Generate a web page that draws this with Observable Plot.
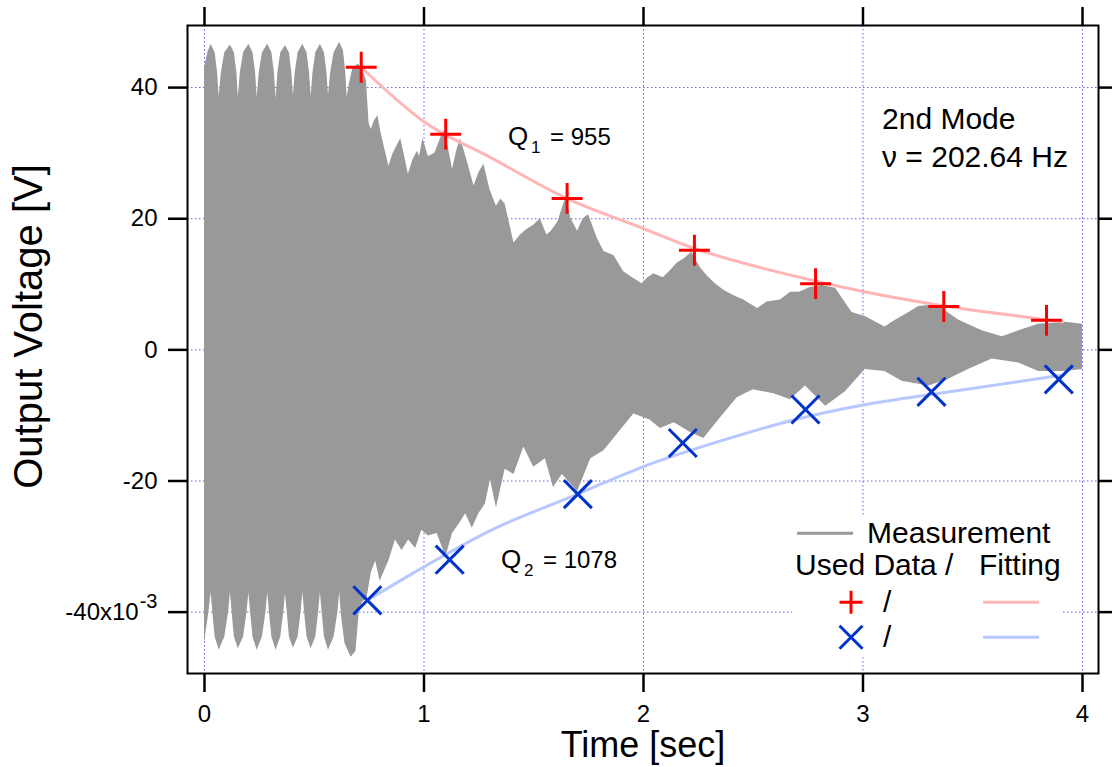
<!DOCTYPE html>
<html><head><meta charset="utf-8">
<script src="https://cdn.jsdelivr.net/npm/d3@7"></script>
<script src="https://cdn.jsdelivr.net/npm/@observablehq/plot@0.6"></script>
<style>body{margin:0;background:#fff;} svg{display:block}</style>
</head><body><div id="chart"></div>
<script>
const upperT = [0.000,0.015,0.030,0.0485,0.0596,0.067,
  0.077,0.0925,0.118,0.136,0.1476,0.154,
  0.1636,0.178,0.202,0.221,0.2328,0.240,
  0.2496,0.264,0.288,0.307,0.3184,0.326,
  0.3346,0.3475,0.369,0.387,0.3978,0.405,
  0.4136,0.4265,0.448,0.467,0.4784,0.486,
  0.4944,0.507,0.528,0.5465,0.5576,0.565,
  0.575,0.5905,0.616,0.633,0.643,0.650,
  0.660,0.675,0.700,0.720,0.738,0.750,0.760,0.775,0.790,0.805,
  0.840,0.860,0.894,0.912,0.929,0.950,0.970,0.980,0.995,1.020,
  1.050,1.090,1.110,1.130,1.150,1.167,1.195,1.228,1.250,1.273,
  1.300,1.330,1.350,1.370,1.410,1.440,1.470,1.500,1.530,1.560,
  1.580,1.610,1.645,1.670,1.700,1.725,1.750,1.790,1.820,1.865,
  1.910,1.950,1.994,2.020,2.047,2.090,2.120,2.153,2.190,2.220,
  2.260,2.290,2.330,2.366,2.410,2.457,2.520,2.563,2.624,2.670,
  2.710,2.760,2.814,2.875,2.950,3.010,3.100,3.148,3.200,3.254,
  3.310,3.360,3.437,3.543,3.634,3.710,3.800,3.923,4.000];
const upperV = [43.0,45.3,46.6,45.3,42.3,38.6,
  42.3,45.3,46.5,45.3,42.3,38.5,
  42.3,45.3,46.6,45.3,42.3,38.5,
  42.3,45.3,46.6,45.3,42.3,38.3,
  42.3,45.3,46.4,45.3,42.3,38.8,
  42.3,45.3,46.6,45.3,42.3,38.6,
  42.3,45.3,46.6,45.3,42.3,38.8,
  42.3,45.3,46.9,45.6,42.5,38.5,
  40.5,42.8,43.6,42.8,41.0,34.5,33.6,35.0,35.7,33.0,
  28.0,30.0,32.2,29.5,26.8,29.0,30.3,29.5,32.2,29.5,
  30.0,33.5,31.0,27.5,30.5,32.2,29.0,25.0,27.0,28.3,
  24.5,21.9,23.0,22.2,16.3,17.5,18.4,19.0,20.0,17.5,
  18.1,19.5,23.1,20.0,18.1,20.0,20.6,17.0,15.0,14.4,
  11.9,11.0,10.1,11.0,11.6,11.0,12.0,13.2,14.0,14.9,
  12.5,11.3,10.0,9.1,8.3,7.6,6.3,7.3,7.6,8.8,
  8.8,9.5,9.8,9.4,5.7,5.1,3.5,4.5,5.5,6.6,
  6.8,6.3,4.5,2.9,2.0,2.9,3.9,4.2,3.9];
const lowerT = [0.000,0.020,0.030,0.038,0.0485,0.067,
  0.0925,0.110,0.118,0.126,0.136,0.154,
  0.178,0.194,0.202,0.210,0.221,0.240,
  0.264,0.280,0.288,0.296,0.307,0.326,
  0.3475,0.361,0.369,0.377,0.387,0.405,
  0.4265,0.440,0.448,0.456,0.467,0.486,
  0.507,0.520,0.528,0.536,0.5465,0.565,
  0.5905,0.608,0.616,0.624,0.640,0.668,
  0.690,0.705,0.720,0.740,0.760,0.780,0.800,
  0.840,0.870,0.900,0.930,0.962,0.990,1.020,1.060,1.100,1.130,1.160,
  1.190,1.220,1.250,1.280,1.303,1.330,1.370,1.410,1.455,1.500,
  1.553,1.590,1.630,1.700,1.760,1.820,1.880,1.956,2.030,2.077,
  2.140,2.214,2.275,2.350,2.427,2.500,2.594,2.670,2.738,2.830,
  2.920,3.010,3.100,3.178,3.300,3.390,3.480,3.589,3.710,3.800,
  3.923,4.000];
const lowerV = [-44.8,-40.0,-37.0,-40.0,-43.8,-45.8,
  -43.8,-40.0,-37.0,-40.0,-43.8,-45.6,
  -43.8,-40.0,-37.0,-40.0,-43.8,-45.8,
  -43.8,-40.0,-37.0,-40.0,-43.8,-45.8,
  -43.8,-40.0,-37.2,-40.0,-43.8,-45.5,
  -43.8,-40.0,-37.0,-40.0,-43.8,-45.6,
  -43.8,-40.0,-37.0,-40.0,-43.8,-45.8,
  -43.8,-40.0,-37.0,-40.5,-44.8,-46.9,
  -46.0,-40.0,-38.5,-38.0,-34.0,-32.2,-35.3,
  -32.2,-29.0,-30.6,-29.0,-30.3,-27.5,-28.4,-28.0,-31.6,-28.0,-26.6,
  -25.0,-27.2,-25.0,-23.5,-19.8,-24.1,-18.2,-19.0,-14.8,-17.9,
  -16.6,-21.0,-19.0,-21.6,-16.6,-15.4,-12.9,-9.8,-10.7,-12.0,
  -11.1,-12.6,-13.5,-10.4,-7.3,-6.1,-6.7,-7.6,-5.5,-8.6,
  -6.4,-3.0,-3.3,-4.8,-5.5,-4.5,-3.0,-1.4,-2.0,-3.3,
  -3.3,-3.0];

// Used data points
const usedUpperT = [0.714,1.099,1.652,2.232,2.784,3.368,3.836];
const usedUpperV = [43.1,32.9,23.1,15.2,10.1,6.6,4.5];
const usedLowerT = [0.742,1.117,1.701,2.179,2.738,3.312,3.892];
const usedLowerV = [-38.2,-32.0,-22.0,-14.2,-9.1,-6.4,-4.5];

// Fitted envelopes
const fitUpperT = [0.714,1.0,1.3,1.65,2.0,2.23,2.67,3.0,3.37,3.84,3.91];
const fitUpperV = [43.1,34.8,29.4,23.1,18.5,15.5,11.4,8.9,6.7,4.6,4.3];
const fitLowerT = [0.742,1.0,1.3,1.7,2.0,2.37,2.67,3.0,3.31,3.9];
const fitLowerV = [-38.2,-33.1,-27.6,-22.0,-17.8,-13.7,-10.8,-8.4,-6.8,-3.9];

const xTicks = [0,1,2,3,4];
const yTicks = [-40,-20,0,20,40];
const yTickLabels = ["-40x10","-20","0","20","40"];

const font = "'Liberation Sans', Arial, Helvetica, sans-serif";
const zip = (T, V) => T.map((t, i) => ({t, v: V[i]}));
const up = zip(upperT, upperV), lo = zip(lowerT, lowerV);
const uu = zip(usedUpperT, usedUpperV), ul = zip(usedLowerT, usedLowerV);
const fu = zip(fitUpperT, fitUpperV), fl = zip(fitLowerT, fitLowerV);

const gridStyle = {stroke: "#5a5aff", strokeOpacity: 1, strokeWidth: 1, strokeDasharray: "1.5,2.5"};
const plot = Plot.plot({
  width: 1112, height: 767,
  marginLeft: 187, marginRight: 14, marginTop: 25, marginBottom: 94,
  x: {domain: [-0.0774, 4.0729]},
  y: {domain: [-49.36, 49.47]},
  style: {fontFamily: font, background: "white", color: "black", overflow: "visible"},
  marks: [
    Plot.gridX(xTicks, gridStyle),
    Plot.gridY(yTicks, gridStyle),
    Plot.areaY(up, {x: "t", y1: -1, y2: "v", fill: "#999999"}),
    Plot.areaY(lo, {x: "t", y1: "v", y2: 1, fill: "#999999"}),
    Plot.line(fu, {x: "t", y: "v", stroke: "#ffb5b5", strokeWidth: 3, curve: "monotone-x"}),
    Plot.line(fl, {x: "t", y: "v", stroke: "#b8c8ff", strokeWidth: 3, curve: "monotone-x"}),
    Plot.dot(uu, {x: "t", y: "v", symbol: "plus", r: 10, stroke: "#ff0000", strokeWidth: 3}),
    Plot.dot(ul, {x: "t", y: "v", symbol: "times", r: 12.8, stroke: "#0033cc", strokeWidth: 3}),
    Plot.frame({stroke: "black", strokeWidth: 2}),
    Plot.axisX(xTicks, {anchor: "bottom", tickSize: 19, tickPadding: 12, fontSize: 24, strokeWidth: 2.5, label: null, tickFormat: d => String(d)}),
    Plot.axisX(xTicks, {anchor: "top", tickSize: 19, strokeWidth: 2.5, label: null, tickFormat: () => ""}),
    Plot.axisY(yTicks, {anchor: "left", tickSize: 19, tickPadding: 11, fontSize: 24, strokeWidth: 2.5, label: null, tickFormat: d => yTickLabels[yTicks.indexOf(d)]}),
    Plot.axisY(yTicks, {anchor: "right", tickSize: 19, strokeWidth: 2.5, label: null, tickFormat: () => ""}),
    Plot.text(["Time [sec]"], {frameAnchor: "bottom", text: d => d, textAnchor: "middle", lineAnchor: "middle", dy: 72, fontSize: 36}),
    Plot.text(["Output Voltage [V]"], {frameAnchor: "left", text: d => d, textAnchor: "middle", lineAnchor: "middle", rotate: -90, dx: -158, dy: -23, fontSize: 40})
  ]
});
document.getElementById("chart").appendChild(plot);

const svg = d3.select(plot);
// superscript on the -40 tick label
svg.selectAll("text").filter(function () { return this.textContent === "-40x10"; })
  .append("tspan").attr("dx", 1).attr("dy", "-0.6em").attr("font-size", 20).text("-3");

const sx = plot.scale("x"), sy = plot.scale("y");
const g = svg.append("g").attr("font-family", font).attr("fill", "black").attr("text-anchor", "start");

// Q labels
function qLabel(t, v, sub, rest) {
  const x = sx.apply(t), y = sy.apply(v);
  g.append("text").attr("x", x).attr("y", y).attr("font-size", 26).text("Q");
  g.append("text").attr("x", x + 23).attr("y", y + 8).attr("font-size", 17).text(sub);
  g.append("text").attr("x", x + 42).attr("y", y).attr("font-size", 24).text(rest);
}
qLabel(1.385, 31.1, "1", "= 955");
qLabel(1.353, -33.4, "2", "= 1078");

// Mode annotation
{
  const x = sx.apply(3.089), y = sy.apply(33.55);
  g.append("text").attr("x", x).attr("y", y).attr("font-size", 30).text("2nd Mode");
  g.append("text").attr("x", x).attr("y", y + 38).attr("font-size", 30).text("\u03bd = 202.64 Hz");
}

// Legend
{
  const x0 = sx.apply(2.679), y0 = sy.apply(-25.3);
  const L = g.append("g").attr("transform", `translate(${x0},${y0})`);
  L.append("rect").attr("x", 0).attr("y", 0).attr("width", 271).attr("height", 142).attr("fill", "white");
  L.append("line").attr("x1", 5).attr("x2", 61).attr("y1", 18).attr("y2", 18).attr("stroke", "#999999").attr("stroke-width", 3);
  L.append("text").attr("x", 75).attr("y", 28).attr("font-size", 30).text("Measurement");
  L.append("text").attr("x", 3).attr("y", 60).attr("font-size", 30).text("Used Data /");
  L.append("text").attr("x", 187).attr("y", 60).attr("font-size", 30).text("Fitting");
  const h = 11.5;
  L.append("path").attr("d", `M${59 - h},87H${59 + h}M59,${87 - h}V${87 + h}`).attr("stroke", "#ff0000").attr("stroke-width", 3).attr("fill", "none");
  L.append("path").attr("d", `M${59 - h},${122 - h}L${59 + h},${122 + h}M${59 - h},${122 + h}L${59 + h},${122 - h}`).attr("stroke", "#0033cc").attr("stroke-width", 3).attr("fill", "none");
  L.append("text").attr("x", 91).attr("y", 97).attr("font-size", 30).text("/");
  L.append("text").attr("x", 91).attr("y", 132).attr("font-size", 30).text("/");
  L.append("line").attr("x1", 191).attr("x2", 247).attr("y1", 87).attr("y2", 87).attr("stroke", "#ffb5b5").attr("stroke-width", 3);
  L.append("line").attr("x1", 191).attr("x2", 247).attr("y1", 122).attr("y2", 122).attr("stroke", "#b8c8ff").attr("stroke-width", 3);
}
</script>
</body></html>
